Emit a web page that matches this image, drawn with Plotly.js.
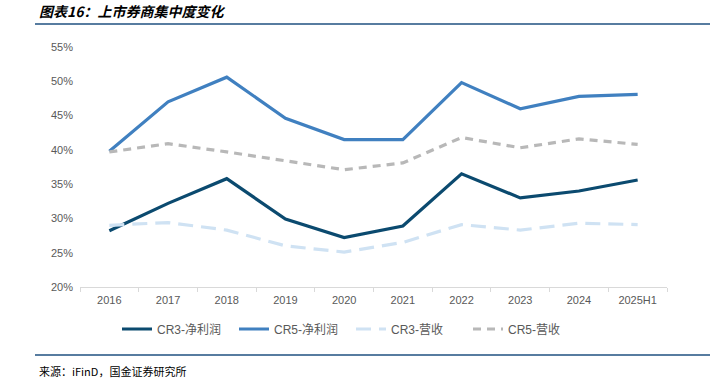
<!DOCTYPE html>
<html>
<head>
<meta charset="utf-8">
<script src="https://cdn.plot.ly/plotly-3.0.1.min.js"></script>
<style>html,body{margin:0;padding:0;background:#fff;}#chart{width:710px;height:386px;}</style>
</head>
<body>
<div id="chart"></div>
<script>
const categories = ['2016','2017','2018','2019','2020','2021','2022','2023','2024','2025H1'];
const cr3Profit = [28.2, 32.2, 35.8, 29.9, 27.2, 28.9, 36.5, 33.0, 34.0, 35.6];
const cr5Profit = [39.8, 47.0, 50.6, 44.6, 41.5, 41.5, 49.8, 46.0, 47.8, 48.1];
const cr3Revenue = [29.0, 29.4, 28.3, 26.0, 25.1, 26.5, 29.1, 28.3, 29.3, 29.1];
const cr5Revenue = [39.7, 40.9, 39.7, 38.4, 37.1, 38.1, 41.8, 40.3, 41.6, 40.8];
const seriesNames = ['CR3-净利润', 'CR5-净利润', 'CR3-营收', 'CR5-营收'];
const yTickVals = [20, 25, 30, 35, 40, 45, 50, 55];
const yTickText = ['20%', '25%', '30%', '35%', '40%', '45%', '50%', '55%'];

const traces = [
  {x: categories, y: cr3Profit, name: seriesNames[0], mode: 'lines',
   line: {color: '#0b4a6f', width: 3.2}},
  {x: categories, y: cr5Profit, name: seriesNames[1], mode: 'lines',
   line: {color: '#4080c0', width: 3.2}},
  {x: categories, y: cr3Revenue, name: seriesNames[2], mode: 'lines',
   line: {color: '#cfe2f3', width: 3.2, dash: '15px,8px'}},
  {x: categories, y: cr5Revenue, name: seriesNames[3], mode: 'lines',
   line: {color: '#b8b8b8', width: 3.2, dash: '8px,6px'}}
];

const ml = 80, mr = 43, mt = 47, mb = 99;
const pw = 710 - ml - mr, ph = 386 - mt - mb;
const px = v => (v - ml) / pw;
const py = v => (386 - mb - v) / ph;

const layout = {
  width: 710, height: 386,
  margin: {l: ml, r: mr, t: mt, b: mb},
  paper_bgcolor: '#ffffff', plot_bgcolor: '#ffffff',
  font: {family: 'Liberation Sans, Arial, sans-serif', color: '#595959', size: 11},
  showlegend: true,
  legend: {orientation: 'h', x: px(117), xanchor: 'left', y: py(329), yanchor: 'middle',
           font: {size: 12, color: '#595959', family: 'Liberation Sans, Noto Sans CJK SC, sans-serif'},
           entrywidth: 72, entrywidthmode: 'pixels', bgcolor: 'rgba(0,0,0,0)'},
  xaxis: {type: 'category', range: [-0.5, 9.5], showgrid: false, zeroline: false,
          showline: true, linecolor: '#d9d9d9', linewidth: 1,
          ticks: 'outside', tickson: 'boundaries', ticklen: 4, tickcolor: '#d9d9d9',
          ticklabelstandoff: 3,
          tickfont: {size: 11, color: '#595959'}, fixedrange: true},
  yaxis: {range: [20, 55], tickvals: yTickVals, ticktext: yTickText, showgrid: false,
          zeroline: false, showline: false, ticks: '', ticklabelstandoff: 6,
          tickfont: {size: 11, color: '#595959'}, fixedrange: true},
  shapes: [
    {type: 'line', xref: 'paper', yref: 'paper', x0: px(35), x1: px(710), y0: py(24), y1: py(24),
     line: {color: '#1f5080', width: 1.5}},
    {type: 'line', xref: 'paper', yref: 'paper', x0: px(35), x1: px(710), y0: py(355), y1: py(355),
     line: {color: '#1f5080', width: 1.5}}
  ],
  annotations: [
    {xref: 'paper', yref: 'paper', x: px(37), y: py(11), xanchor: 'left', yanchor: 'middle',
     showarrow: false, text: '<b><i>图表16：上市券商集中度变化</i></b>',
     font: {size: 14, color: '#000000', family: 'Noto Sans CJK SC, sans-serif'}},
    {xref: 'paper', yref: 'paper', x: px(37), y: py(371), xanchor: 'left', yanchor: 'middle',
     showarrow: false, text: '来源：iFinD，国金证券研究所',
     font: {size: 11, color: '#000000', family: 'Noto Sans CJK SC, sans-serif'}}
  ]
};

Plotly.newPlot('chart', traces, layout, {displayModeBar: false, staticPlot: true});
</script>
</body>
</html>
